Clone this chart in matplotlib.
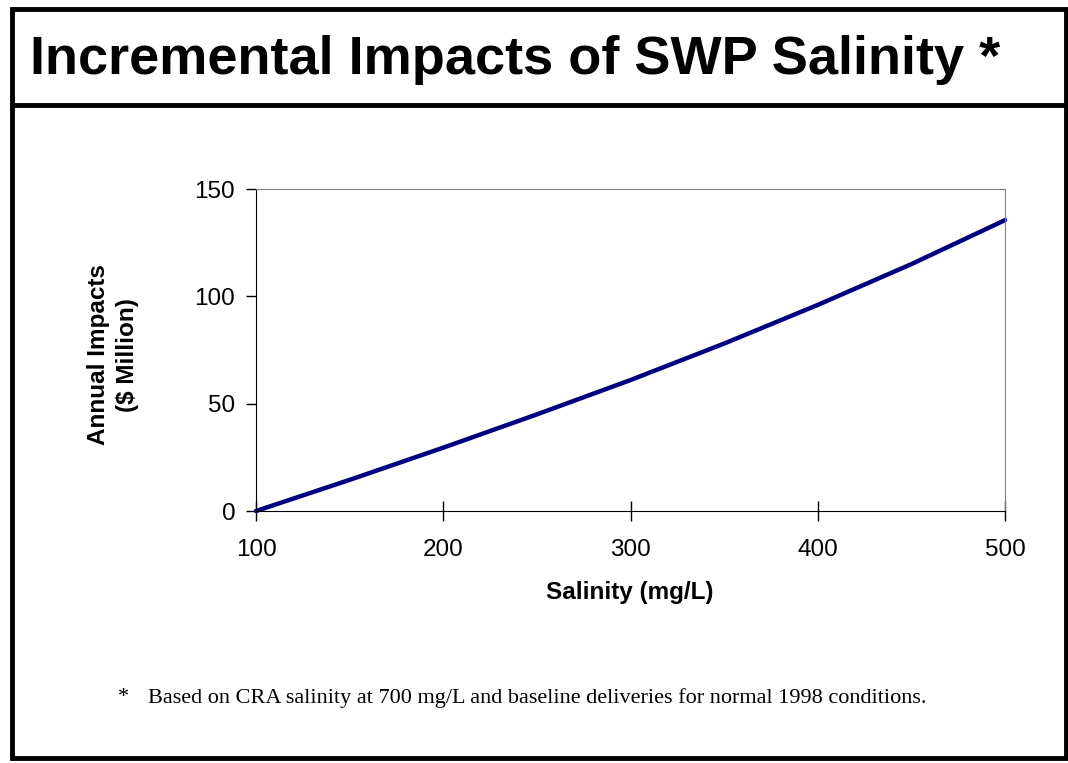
import matplotlib.pyplot as plt
from matplotlib.patches import Rectangle
from matplotlib.lines import Line2D

salinity = [100, 150, 200, 250, 300, 350, 400, 450, 500]
impacts = [0, 14.5, 29.5, 45, 61, 78, 96, 115, 135.5]

xticks = [100, 200, 300, 400, 500]
yticks = [0, 50, 100, 150]

plt.rcParams['font.family'] = 'Liberation Sans'

fig = plt.figure(figsize=(10.68, 7.63), dpi=100)

# frame round the slide and the title bar
fig.add_artist(Rectangle((12/1068, 1-758/763), 1054/1068, 749/763, transform=fig.transFigure,
                         fill=False, edgecolor='black', linewidth=3.5))
fig.add_artist(Line2D([12/1068, 1066/1068], [1-104.5/763, 1-104.5/763], transform=fig.transFigure,
                      color='black', linewidth=3.5))

fig.text(30/1068, 1-60/763, 'Incremental Impacts of SWP Salinity *', fontsize=39,
         fontweight='bold', va='center', ha='left')

ax = fig.add_axes([256/1068, 1-511/763, 749/1068, 322/763])
ax.plot(salinity, impacts, color='#000080', linewidth=3.2, solid_capstyle='round', clip_on=False)
ax.set_xlim(100, 500)
ax.set_ylim(0, 150)
ax.set_xticks(xticks)
ax.set_yticks(yticks)
ax.tick_params(axis='x', direction='inout', length=14, width=1, labelsize=17.5, pad=13)
ax.tick_params(axis='y', direction='out', length=7, width=1, labelsize=17.5, pad=8)
for s in ['top', 'right']:
    ax.spines[s].set_color('#808080')
for s in ['left', 'bottom']:
    ax.spines[s].set_color('black')

fig.text(630/1068, 1-592/763, 'Salinity (mg/L)', fontsize=17.5, fontweight='bold',
         ha='center', va='center')
fig.text(113/1068, 1-355/763, 'Annual Impacts\n($ Million)', fontsize=17.5, fontweight='bold',
         ha='center', va='center', rotation=90, linespacing=1.35)

fig.text(118/1068, 1-698/763, '*', fontsize=16, family='Liberation Serif', va='center')
fig.text(148/1068, 1-698/763, 'Based on CRA salinity at 700 mg/L and baseline deliveries for normal 1998 conditions.',
         fontsize=16, family='Liberation Serif', va='center')

fig.savefig('out.png', dpi=100)
